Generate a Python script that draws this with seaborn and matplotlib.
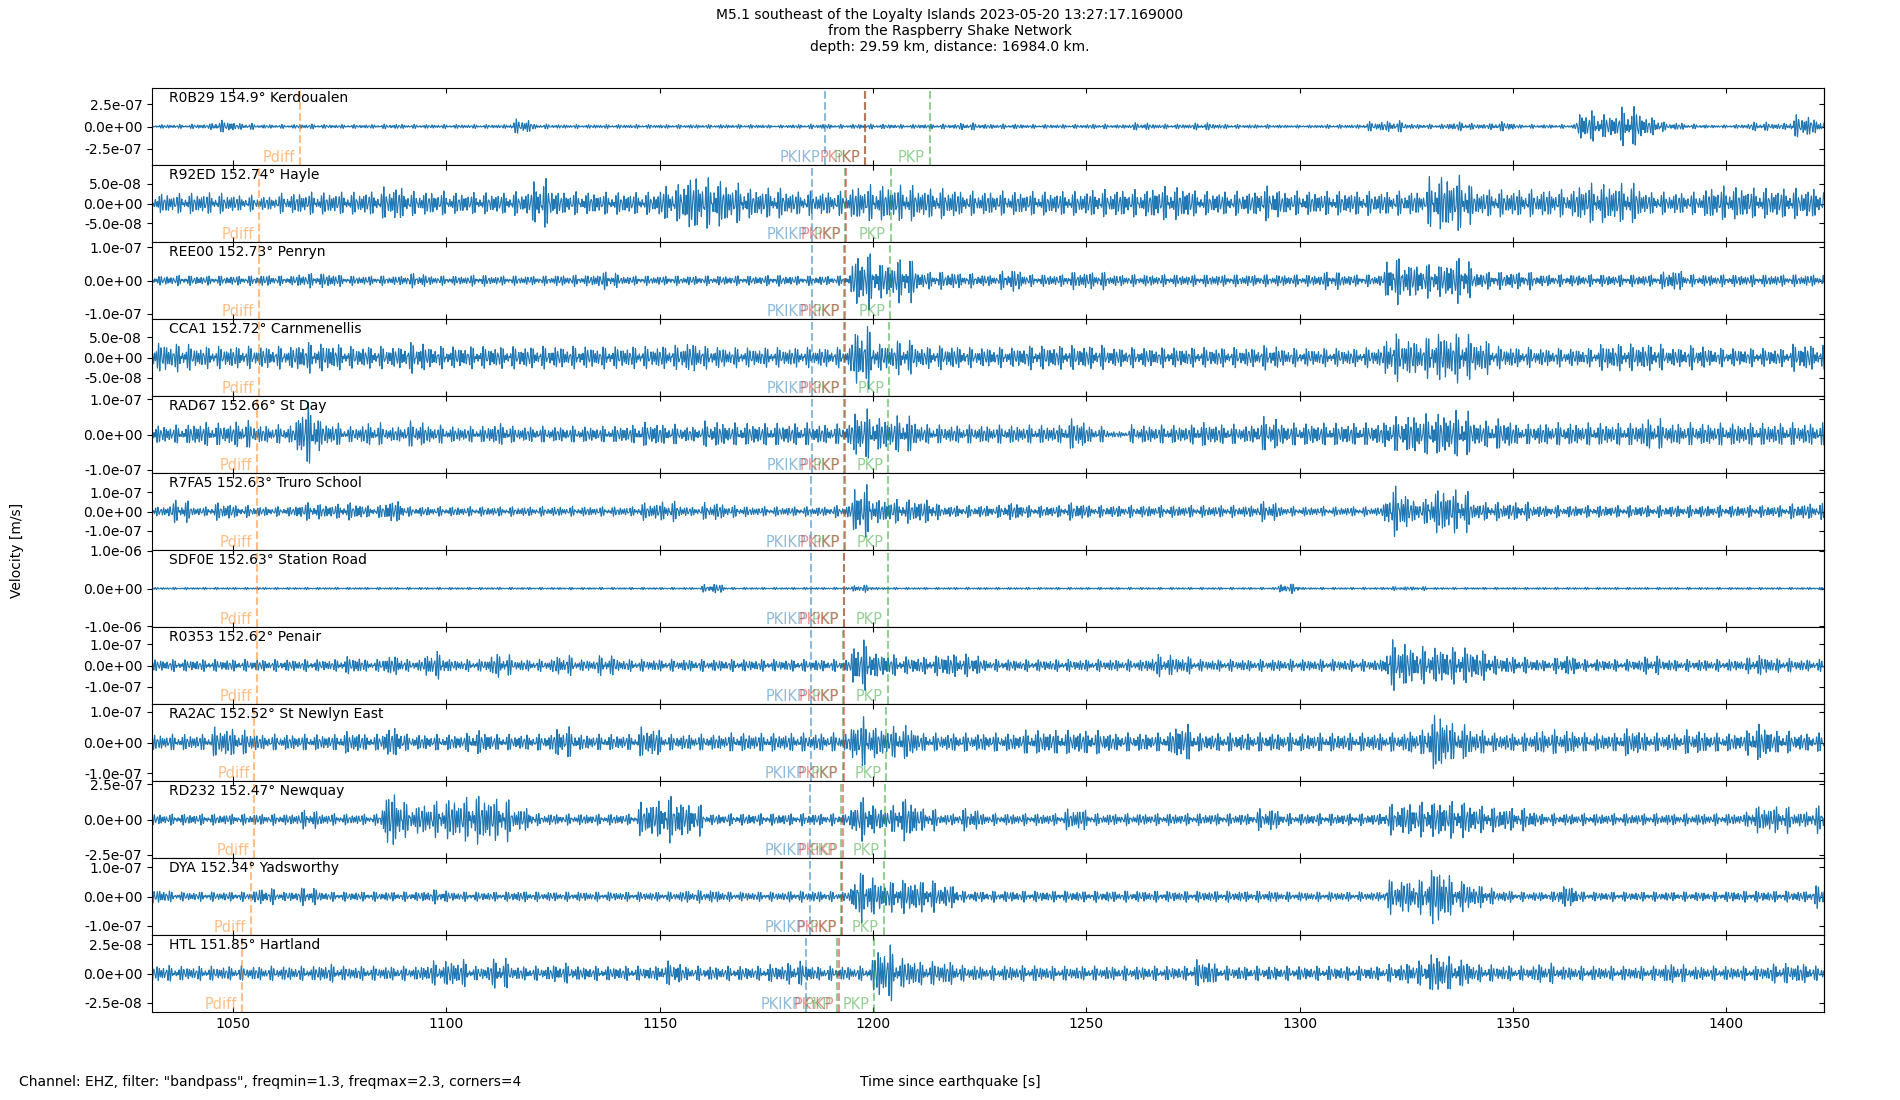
import numpy as np
import matplotlib
matplotlib.use("Agg")
import matplotlib.pyplot as plt
from matplotlib.ticker import FormatStrFormatter
import seaborn as sns

# stations, top to bottom
stations = ["R0B29", "R92ED", "REE00", "CCA1", "RAD67", "R7FA5",
            "SDF0E", "R0353", "RA2AC", "RD232", "DYA", "HTL"]
distances = [154.9, 152.74, 152.73, 152.72, 152.66, 152.63,
             152.63, 152.62, 152.52, 152.47, 152.34, 151.85]
places = ["Kerdoualen", "Hayle", "Penryn", "Carnmenellis", "St Day", "Truro School",
          "Station Road", "Penair", "St Newlyn East", "Newquay", "Yadsworthy", "Hartland"]

# predicted arrivals [s after origin]
t_pdiff = [1065.6, 1056.0, 1056.0, 1056.0, 1055.6, 1055.5, 1055.5, 1055.5, 1055.0, 1054.9, 1054.1, 1052.0]
t_pkikp = [1188.8, 1185.7, 1185.7, 1185.7, 1185.7, 1185.5, 1185.5, 1185.5, 1185.4, 1185.3, 1185.2, 1184.3]
t_pkp_a = [1198.2, 1193.5, 1193.3, 1193.3, 1193.3, 1193.2, 1193.1, 1193.0, 1192.9, 1192.6, 1192.5, 1191.5]
t_pkikp_ic = [1198.2, 1193.7, 1193.5, 1193.5, 1193.5, 1193.4, 1193.3, 1193.2, 1193.1, 1192.9, 1192.8, 1192.1]
t_pkp_b = [1213.3, 1204.1, 1204.0, 1203.8, 1203.6, 1203.6, 1203.5, 1203.5, 1203.1, 1202.8, 1202.5, 1200.3]

# half range of each panel [m/s] and tick step
y_half = [4.36e-7, 9.8e-8, 1.16e-7, 9.4e-8, 1.09e-7, 2.0e-7, 1.02e-6, 1.8e-7, 1.26e-7, 2.73e-7, 1.31e-7, 3.3e-8]
y_tick = [2.5e-7, 5e-8, 1e-7, 5e-8, 1e-7, 1e-7, 1e-6, 1e-7, 1e-7, 2.5e-7, 1e-7, 2.5e-8]

# peak amplitude in 5 s windows starting at 1030 s, in % of panel half range
env_R0B29 = [5, 5, 6, 15, 8, 5, 5, 6, 5, 5,
             5, 6, 5, 5, 5, 5, 5, 18, 6, 5,
             5, 5, 5, 5, 5, 5, 5, 5, 5, 4,
             5, 6, 5, 6, 6, 5, 6, 6, 9, 6,
             6, 5, 5, 5, 6, 5, 9, 6, 6, 9,
             6, 5, 5, 4, 4, 5, 5, 12, 14, 6,
             6, 11, 7, 12, 5, 5, 5, 38, 30, 50,
             23, 9, 6, 4, 5, 11, 8, 28, 18]
env_R92ED = [25, 25, 27, 25, 20, 18, 25, 28, 28, 28,
             30, 43, 30, 30, 27, 27, 27, 30, 60, 30,
             28, 28, 28, 28, 45, 70, 62, 50, 38, 38,
             30, 30, 30, 45, 45, 45, 38, 38, 30, 30,
             30, 30, 30, 30, 34, 34, 34, 42, 42, 30,
             30, 30, 43, 30, 30, 30, 30, 30, 30, 30,
             70, 70, 34, 34, 34, 34, 34, 50, 50, 50,
             28, 28, 28, 42, 42, 38, 38, 38, 38]
env_REE00 = [12, 13, 12, 12, 12, 14, 12, 18, 18, 12,
             12, 12, 18, 12, 12, 14, 12, 12, 12, 14,
             14, 22, 12, 12, 12, 12, 12, 12, 12, 14,
             12, 12, 12, 70, 45, 55, 22, 22, 18, 15,
             28, 15, 15, 22, 22, 15, 15, 15, 15, 15,
             15, 15, 15, 15, 15, 22, 15, 15, 57, 42,
             42, 57, 22, 22, 22, 15, 15, 15, 15, 15,
             15, 26, 15, 15, 15, 15, 15, 15, 15]
env_CCA1 = [38, 35, 28, 28, 28, 28, 28, 38, 35, 28,
            28, 28, 38, 28, 28, 28, 28, 28, 28, 28,
            28, 28, 28, 28, 30, 38, 28, 25, 25, 25,
            25, 25, 25, 77, 35, 43, 28, 30, 25, 25,
            25, 30, 30, 30, 30, 25, 25, 25, 25, 25,
            25, 25, 30, 23, 23, 23, 23, 25, 58, 45,
            62, 62, 43, 28, 25, 23, 23, 23, 34, 34,
            34, 25, 30, 23, 23, 23, 23, 34, 30]
env_RAD67 = [23, 23, 30, 28, 34, 23, 23, 77, 30, 20,
             28, 20, 32, 23, 20, 20, 28, 20, 20, 20,
             20, 20, 23, 30, 25, 20, 32, 28, 28, 28,
             28, 25, 25, 62, 42, 46, 25, 23, 23, 23,
             23, 23, 23, 38, 20, 8, 23, 23, 23, 30,
             25, 23, 42, 28, 28, 28, 28, 28, 43, 50,
             54, 58, 34, 38, 25, 28, 28, 28, 28, 28,
             38, 28, 28, 28, 28, 28, 28, 28, 28]
env_R7FA5 = [12, 28, 12, 22, 15, 12, 12, 22, 18, 22,
             15, 28, 12, 12, 12, 12, 12, 12, 12, 12,
             12, 12, 12, 22, 25, 12, 22, 15, 12, 12,
             12, 12, 15, 65, 30, 30, 30, 15, 15, 15,
             22, 15, 15, 22, 15, 15, 15, 15, 15, 15,
             15, 15, 25, 12, 12, 12, 12, 12, 62, 30,
             58, 54, 23, 23, 23, 15, 15, 15, 15, 15,
             15, 15, 15, 15, 15, 15, 15, 20, 20]
env_SDF0E = [3, 3, 3, 3, 3, 3, 3, 3, 3, 3,
             3, 3, 3, 3, 3, 3, 3, 3, 3, 3,
             3, 3, 3, 3, 3, 3, 12, 3, 3, 3,
             3, 3, 3, 9, 3, 3, 3, 3, 3, 3,
             3, 3, 3, 3, 3, 3, 3, 3, 3, 3,
             3, 3, 3, 12, 3, 3, 3, 3, 5, 5,
             3, 3, 3, 3, 3, 3, 3, 3, 3, 3,
             3, 3, 3, 3, 3, 3, 3, 3, 3]
env_R0353 = [15, 15, 15, 15, 15, 15, 15, 15, 15, 22,
             15, 25, 15, 34, 15, 15, 30, 15, 15, 25,
             15, 25, 15, 15, 15, 15, 15, 15, 15, 15,
             15, 15, 15, 62, 30, 22, 22, 30, 28, 15,
             15, 15, 15, 15, 15, 15, 15, 28, 22, 15,
             15, 15, 15, 15, 15, 15, 15, 15, 62, 46,
             46, 46, 38, 23, 20, 15, 25, 15, 15, 15,
             23, 15, 15, 15, 15, 25, 18, 15, 15]
env_RA2AC = [20, 20, 20, 38, 30, 20, 20, 20, 20, 28,
             20, 38, 20, 20, 20, 30, 20, 20, 20, 38,
             20, 20, 20, 38, 20, 20, 20, 23, 23, 23,
             23, 23, 23, 62, 38, 43, 23, 23, 23, 23,
             23, 30, 30, 30, 30, 23, 23, 23, 46, 23,
             23, 23, 23, 23, 23, 23, 23, 23, 23, 30,
             74, 45, 30, 23, 23, 30, 30, 23, 23, 35,
             23, 23, 30, 23, 23, 46, 28, 23, 23]
env_RD232 = [14, 14, 14, 14, 14, 14, 14, 23, 15, 14,
             14, 70, 38, 45, 54, 62, 54, 30, 15, 14,
             14, 14, 14, 46, 58, 40, 14, 15, 15, 15,
             15, 15, 15, 54, 30, 54, 28, 15, 28, 15,
             15, 15, 15, 28, 15, 15, 15, 15, 15, 15,
             15, 15, 28, 15, 15, 15, 15, 15, 38, 43,
             46, 46, 34, 30, 28, 15, 15, 15, 15, 15,
             15, 15, 15, 15, 15, 34, 34, 20, 34]
env_DYA = [18, 12, 12, 12, 12, 20, 12, 22, 12, 12,
           12, 12, 12, 18, 12, 12, 12, 14, 12, 12,
           12, 12, 12, 12, 12, 16, 16, 12, 12, 12,
           14, 14, 12, 62, 38, 43, 40, 30, 14, 14,
           14, 14, 14, 14, 14, 14, 14, 14, 14, 14,
           14, 14, 14, 12, 12, 12, 12, 12, 43, 43,
           74, 40, 28, 15, 12, 12, 28, 12, 12, 12,
           12, 12, 12, 12, 14, 14, 14, 14, 28]
env_HTL = [22, 18, 18, 18, 18, 18, 18, 18, 23, 18,
           18, 18, 18, 30, 34, 18, 38, 18, 18, 25,
           18, 18, 18, 18, 30, 18, 18, 18, 18, 22,
           30, 18, 18, 18, 70, 38, 30, 30, 20, 18,
           20, 20, 18, 18, 18, 18, 18, 18, 18, 34,
           18, 18, 18, 18, 18, 18, 18, 18, 22, 30,
           50, 35, 22, 20, 18, 25, 18, 18, 18, 18,
           18, 25, 18, 18, 18, 18, 25, 25, 18]

envelopes = [env_R0B29, env_R92ED, env_REE00, env_CCA1, env_RAD67, env_R7FA5,
             env_SDF0E, env_R0353, env_RA2AC, env_RD232, env_DYA, env_HTL]

env_start = 1030
env_step = 5
t_start, t_end = 1031.0, 1422.9
freqmin, freqmax = 1.3, 2.3

# bandpassed texture (inside freqmin..freqmax), shaped by the read envelope
dt = 0.05
t = np.arange(t_start, t_end, dt)
band = [1.42, 1.71, 2.13]


def trace(i):
    env = np.array(envelopes[i], dtype=float) / 100.0 * y_half[i]
    idx = np.clip(((t - env_start) // env_step).astype(int), 0, len(env) - 1)
    e = env[idx]
    k = 20
    e = np.convolve(np.pad(e, k, mode="edge"), np.ones(k) / k, mode="same")[k:-k]
    c = (np.sin(2 * np.pi * band[0] * t + 0.3 * i)
         + np.sin(2 * np.pi * band[1] * t + 1.1 + 0.7 * i)
         + np.sin(2 * np.pi * band[2] * t + 2.0 + 1.3 * i)) / 2.7
    return e * c


phase_sets = [("Pdiff", t_pdiff, "tab:orange"),
              ("PKIKP", t_pkikp, "tab:blue"),
              ("PKP", t_pkp_a, "tab:green"),
              ("PKiKP", t_pkikp_ic, "tab:red"),
              ("PKP", t_pkp_b, "tab:green")]

fig, axes = plt.subplots(len(stations), 1, sharex=True, figsize=(19, 11), dpi=100)
fig.subplots_adjust(left=0.08, right=0.96, top=0.92, bottom=0.08, hspace=0)

for i, ax in enumerate(axes):
    sns.lineplot(x=t, y=trace(i), ax=ax, color="tab:blue", linewidth=0.8,
                 estimator=None, sort=False)
    h = y_half[i]
    ax.set_ylim(-h, h)
    ax.set_xlim(t_start, t_end)
    ticks = [-y_tick[i], 0, y_tick[i]]
    ax.set_yticks(ticks)
    ax.yaxis.set_major_formatter(FormatStrFormatter("%.1e"))
    ax.tick_params(axis="x", direction="in", top=True, bottom=True)
    sec = ax.secondary_yaxis("right")
    sec.set_yticks(ticks)
    sec.tick_params(direction="in", labelright=False)

    for name, times, col in phase_sets:
        tp = times[i]
        ax.axvline(tp, color=col, ls="--", lw=1.5, alpha=0.5)
        ax.annotate(name, xy=(tp, -h), xycoords="data", xytext=(-3.5, 0),
                    textcoords="offset points", ha="right", va="bottom",
                    color=col, alpha=0.5, fontsize=10.5)

    ax.text(0.01, 0.955, f"{stations[i]} {distances[i]}° {places[i]}",
            transform=ax.transAxes, ha="left", va="top", fontsize=10)

fig.suptitle("M5.1 southeast of the Loyalty Islands 2023-05-20 13:27:17.169000\n"
             "from the Raspberry Shake Network\n"
             "depth: 29.59 km, distance: 16984.0 km.", fontsize=10, y=0.993, va="top")
fig.text(0.01, 0.0166, f'Channel: EHZ, filter: "bandpass", freqmin={freqmin}, freqmax={freqmax}, corners=4',
         ha="left", va="center", fontsize=10)
fig.text(0.5, 0.0166, "Time since earthquake [s]", ha="center", va="center", fontsize=10)
fig.text(0.009, 0.5, "Velocity [m/s]", rotation=90, ha="center", va="center", fontsize=10)

fig.savefig("out.png", dpi=100)
